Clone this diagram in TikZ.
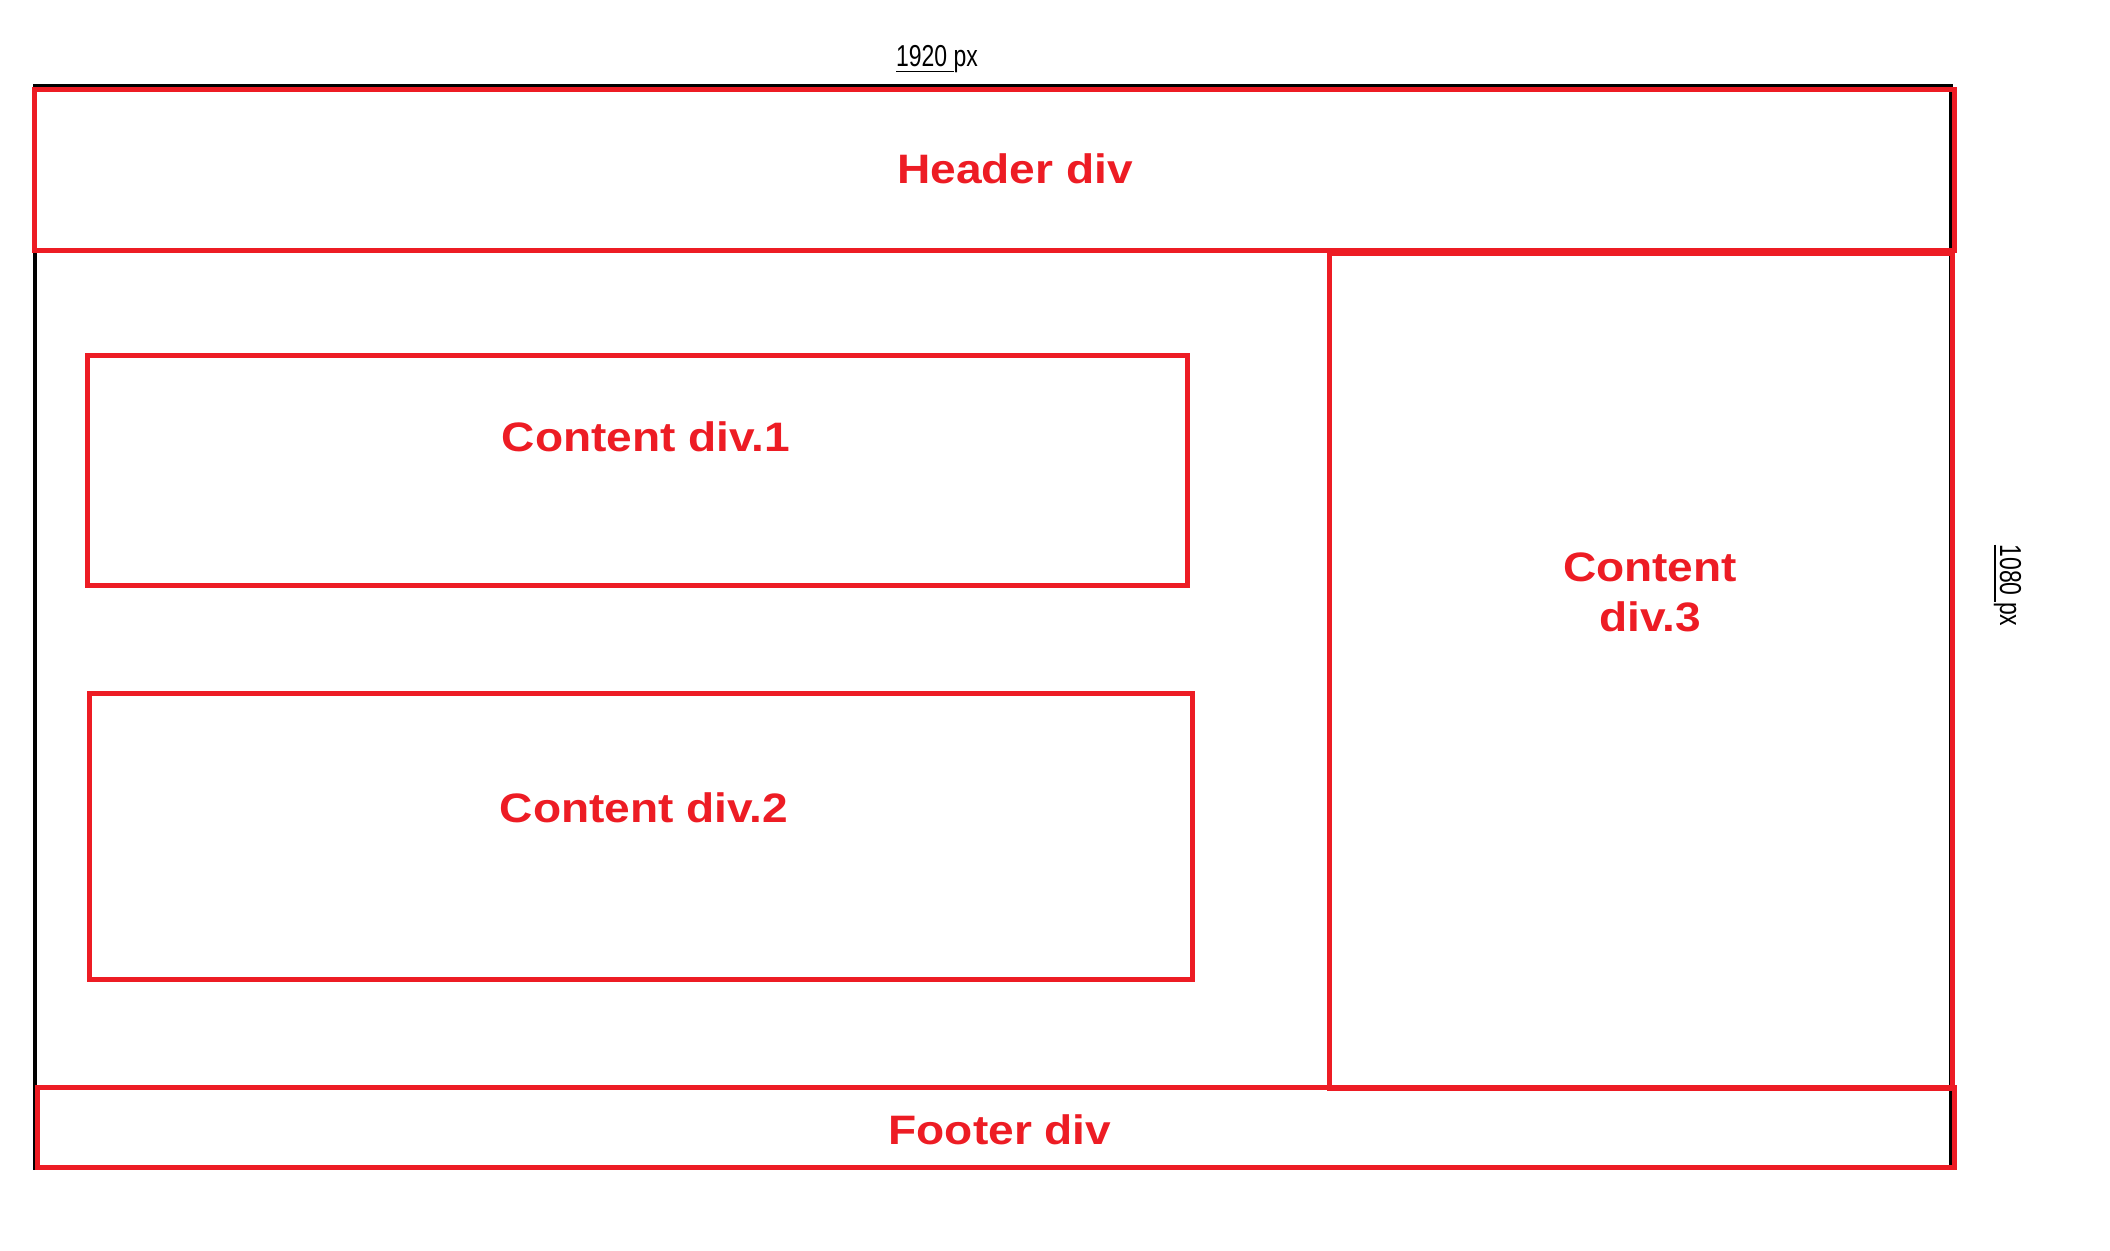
\documentclass[tikz,border=0pt]{standalone}
\usepackage{fontspec}
\usetikzlibrary{
  positioning,
  calc,
}
\newfontfamily\divfont[FakeStretch=1.12]{Liberation Sans}
\newfontfamily\dimfont[FakeStretch=0.76]{Liberation Sans}
\definecolor{divred}{RGB}{237,28,36}
\tikzset{
  my page/.style={
    draw=black,
    line width=0.9pt
  },
  my div/.style={
    draw=divred,
    line width=1.42pt
  },
  my label/.style={
    text=divred,
    font=\divfont\bfseries\fontsize{11.7}{14.2}\selectfont,
    align=center,
    inner sep=0pt
  },
  my dim/.style={
    font=\dimfont\fontsize{8.6}{9}\selectfont,
    inner sep=0pt,
    anchor=base
  }
}

\begin{document}
\begin{tikzpicture}[x=0.01cm,y=-0.01cm]
\useasboundingbox (0,0) rectangle (2110,1250);
% 1920x1080 screen
\coordinate (page nw) at (35,86);
\coordinate (page se) at (1951,1168);
\draw[my page] (page nw) rectangle (page se);
% divs
\coordinate (head nw) at (34.5,89.5);
\coordinate (head se) at (1954.5,250.5);
\coordinate (side nw) at (1329.5,253);
\coordinate (side se) at (1952,1088.5);
\coordinate (foot nw) at (37.5,1087);
\coordinate (foot se) at (1954,1167);
\coordinate (one nw)  at (87.5,355.5);
\coordinate (one se)  at (1187.5,585.5);
\coordinate (two nw)  at (89.5,693.5);
\coordinate (two se)  at (1192,979.5);
\draw[my div] (head nw) rectangle (head se);
\draw[my div] (foot nw) rectangle (foot se);
\draw[my div] (side nw) rectangle (side se);
\draw[my div] (one nw)  rectangle (one se);
\draw[my div] (two nw)  rectangle (two se);
% labels
\node[my label] (head) at (1015,169)  {Header div};
\node[my label] (one)  at (646,437)   {Content div.1};
\node[my label] (two)  at (644,808)   {Content div.2};
\node[my label] (side) at (1650,592)  {Content\\div.3};
\node[my label] (foot) at (1000,1130) {Footer div};
% sizes
\node[my dim]            (width)  at (937,66)    {\underline{1920\ }px};
\node[my dim,rotate=-90] (height) at (2000,585.5) {\underline{1080\ }px};
\end{tikzpicture}
\end{document}
